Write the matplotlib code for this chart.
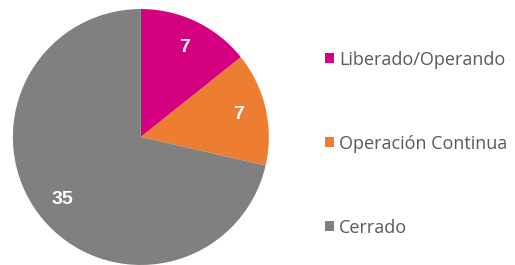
import matplotlib.pyplot as plt

# Data
labels = ['Liberado/Operando', 'Operación Continua', 'Cerrado']
values = [7, 7, 35]
colors = ['#D5007F', '#ED7D31', '#808080']

fig = plt.figure(figsize=(5.15, 2.65), dpi=100)
ax = fig.add_axes([0.025, 0.0, 0.497, 0.966])

wedges, texts, autotexts = ax.pie(
    values, colors=colors, startangle=90, counterclock=False,
    autopct=lambda p: f'{p * sum(values) / 100:.0f}', pctdistance=0.78,
    wedgeprops=dict(linewidth=0))
for t in autotexts:
    t.set_color('white')
    t.set_fontsize(14)
    t.set_fontweight('bold')
    t.set_family('Liberation Sans')
ax.set_xlim(-1, 1)
ax.set_ylim(-1, 1)
ax.set_aspect('equal')

leg = fig.legend(wedges, labels, loc='center left', bbox_to_anchor=(0.600, 0.458),
                 frameon=False, handlelength=0.5, handleheight=0.5,
                 handletextpad=0.25, labelspacing=3.65,
                 prop={'family': 'Open Sans', 'size': 13})
for t in leg.get_texts():
    t.set_color('#595959')

fig.savefig('out.png', dpi=100)
